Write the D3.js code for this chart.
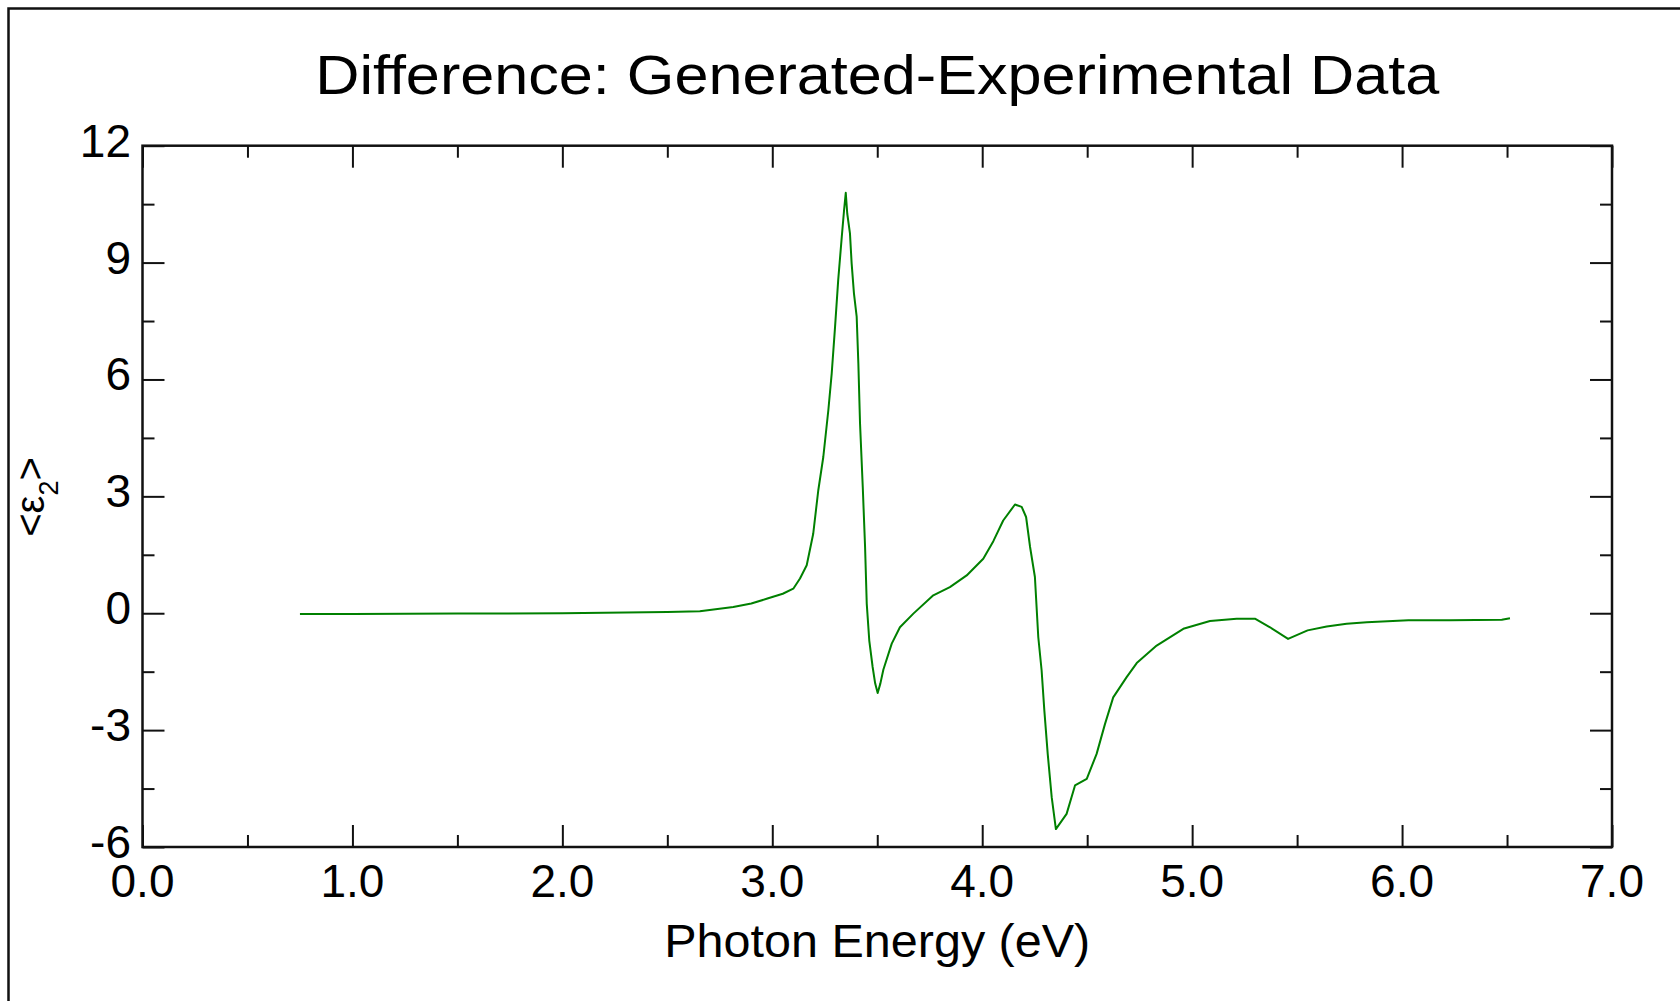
<!DOCTYPE html>
<html>
<head>
<meta charset="utf-8">
<script src="https://cdn.jsdelivr.net/npm/d3@7"></script>
<style>
  body { margin: 0; background: #fff; }
  text { font-family: "Liberation Sans", Arial, sans-serif; fill: #000; }
</style>
</head>
<body>
<div id="chart"></div>
<script>
// photon energy (eV) and difference in <e2>
var energy = [0.75, 1.00, 1.50, 2.00, 2.30, 2.50, 2.655, 2.814, 2.90, 2.973, 3.05, 3.10,
	3.132, 3.164, 3.195, 3.219, 3.243, 3.267, 3.283, 3.299, 3.314, 3.331, 3.342, 3.350,
	3.357, 3.370, 3.378, 3.389, 3.402, 3.410, 3.418, 3.431, 3.442, 3.450, 3.462, 3.478,
	3.490, 3.502, 3.515, 3.529, 3.569, 3.608, 3.672, 3.767, 3.846, 3.926, 4.005, 4.053,
	4.100, 4.156, 4.188, 4.209, 4.228, 4.251, 4.267, 4.283, 4.296, 4.312, 4.331, 4.351,
	4.402, 4.442, 4.498, 4.545, 4.585, 4.624, 4.688, 4.736, 4.831, 4.958, 5.085, 5.212,
	5.299, 5.371, 5.457, 5.550, 5.641, 5.736, 5.832, 6.030, 6.228, 6.475, 6.514];
var eps2 = [-0.02, -0.02, -0.01, 0.00, 0.02, 0.03, 0.05, 0.16, 0.25, 0.37, 0.50, 0.63,
	0.89, 1.23, 2.04, 3.15, 4.01, 5.21, 6.15, 7.35, 8.55, 9.66, 10.35, 10.79,
	10.26, 9.75, 8.98, 8.21, 7.61, 6.41, 4.87, 3.24, 1.70, 0.24, -0.70, -1.38,
	-1.80, -2.05, -1.80, -1.45, -0.78, -0.36, -0.01, 0.46, 0.67, 0.97, 1.40, 1.85,
	2.38, 2.79, 2.73, 2.47, 1.70, 0.93, -0.61, -1.47, -2.50, -3.61, -4.72, -5.54,
	-5.15, -4.42, -4.25, -3.61, -2.84, -2.16, -1.64, -1.28, -0.83, -0.40, -0.20, -0.14,
	-0.14, -0.36, -0.66, -0.44, -0.34, -0.27, -0.23, -0.18, -0.18, -0.17, -0.13];

var xMajor = [0, 1, 2, 3, 4, 5, 6, 7];
var xMinor = [0.5, 1.5, 2.5, 3.5, 4.5, 5.5, 6.5];
var yMajor = [-6, -3, 0, 3, 6, 9, 12];
var yMinor = [-4.5, -1.5, 1.5, 4.5, 7.5, 10.5];

var title = "Difference: Generated-Experimental Data";
var xTitle = "Photon Energy (eV)";

var width = 1680, height = 1001;
var margin = {left: 142.5, right: 68, top: 145.7, bottom: 154};

var svg = d3.select("#chart").append("svg")
	.attr("width", width)
	.attr("height", height);

svg.append("rect").attr("width", width).attr("height", height).attr("fill", "#fff");

// outer frame (only top and left edges show)
svg.append("path")
	.attr("d", "M8.5," + height + "V8.5H" + width)
	.attr("fill", "none")
	.attr("stroke", "#111")
	.attr("stroke-width", 2.5);

var x = d3.scaleLinear().domain([0, 7]).range([margin.left, width - margin.right]);
var y = d3.scaleLinear().domain([-6, 12]).range([height - margin.bottom, margin.top]);

var g = svg.append("g");

// ticks, inward on all four sides
function addTicks(axis, vals, size) {
	g.append("g")
		.attr("transform", axis.pos)
		.call(axis.fn.tickValues(vals).tickSize(size).tickFormat(""))
		.call(function(s) {
			s.select(".domain").remove();
			s.selectAll("line").attr("stroke", "#111").attr("stroke-width", 2);
		});
}
var axes = [
	{fn: d3.axisTop(x), pos: "translate(0," + y(-6) + ")"},
	{fn: d3.axisBottom(x), pos: "translate(0," + y(12) + ")"},
	{fn: d3.axisRight(y), pos: "translate(" + x(0) + ",0)"},
	{fn: d3.axisLeft(y), pos: "translate(" + x(7) + ",0)"}
];
axes.forEach(function(a, i) {
	addTicks(a, i < 2 ? xMajor : yMajor, 22);
	addTicks(a, i < 2 ? xMinor : yMinor, 12);
});

g.append("rect")
	.attr("x", x(0)).attr("y", y(12))
	.attr("width", x(7) - x(0)).attr("height", y(-6) - y(12))
	.attr("fill", "none")
	.attr("stroke", "#111")
	.attr("stroke-width", 2.5);

// tick labels
g.selectAll(".xl").data(xMajor).enter().append("text")
	.attr("x", d => x(d))
	.attr("y", 897)
	.attr("text-anchor", "middle")
	.style("font-size", "46px")
	.text(d => d.toFixed(1));

g.selectAll(".yl").data(yMajor).enter().append("text")
	.attr("x", 131)
	.attr("y", d => y(d) + 11)
	.attr("text-anchor", "end")
	.style("font-size", "46px")
	.text(d => d);

// the curve
var line = d3.line()
	.x(function(d, i) { return x(energy[i]); })
	.y(function(d) { return y(d); });

g.append("path")
	.datum(eps2)
	.attr("d", line)
	.attr("fill", "none")
	.attr("stroke", "#008000")
	.attr("stroke-width", 2)
	.attr("stroke-linejoin", "round");

// titles
svg.append("text")
	.attr("x", (x(0) + x(7)) / 2)
	.attr("y", 94)
	.attr("text-anchor", "middle")
	.attr("textLength", 1124)
	.attr("lengthAdjust", "spacingAndGlyphs")
	.style("font-size", "55px")
	.text(title);

svg.append("text")
	.attr("x", (x(0) + x(7)) / 2)
	.attr("y", 957)
	.attr("text-anchor", "middle")
	.attr("textLength", 426)
	.attr("lengthAdjust", "spacingAndGlyphs")
	.style("font-size", "46px")
	.text(xTitle);

var yt = svg.append("text")
	.attr("transform", "translate(44,497) rotate(-90)")
	.attr("text-anchor", "middle")
	.style("font-size", "40px");
yt.append("tspan").text("<ε");
yt.append("tspan").attr("dy", 14).style("font-size", "27px").text("2");
yt.append("tspan").attr("dy", -14).text(">");
</script>
</body>
</html>
